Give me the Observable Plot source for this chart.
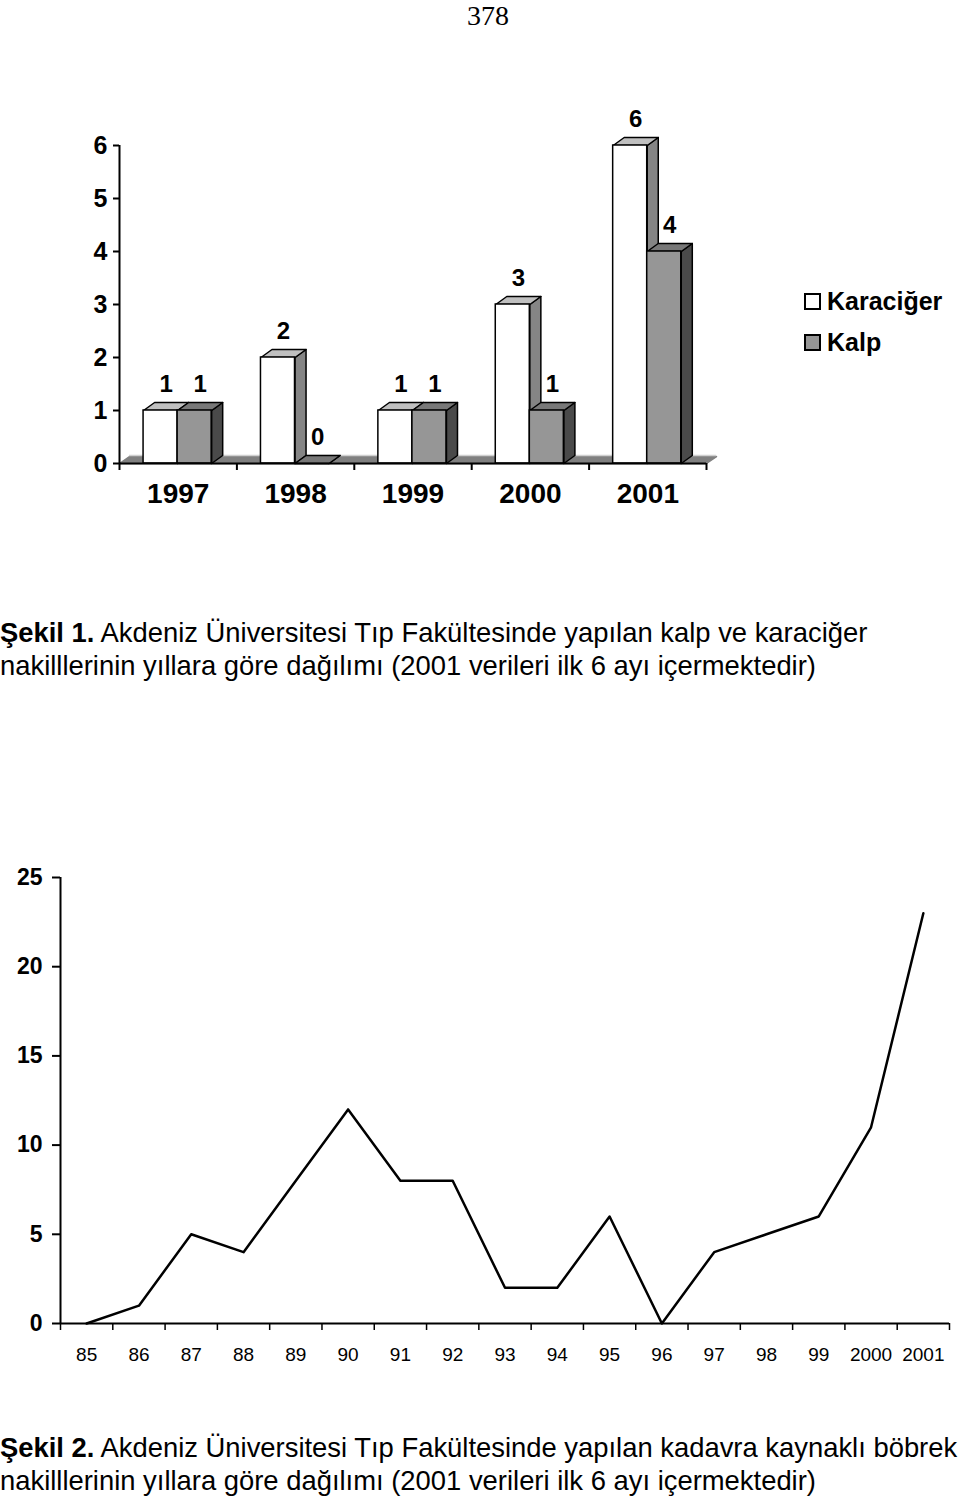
<!DOCTYPE html>
<html><head><meta charset="utf-8">
<script src="https://cdn.jsdelivr.net/npm/d3@7"></script>
<script src="https://cdn.jsdelivr.net/npm/@observablehq/plot@0.6"></script>
<style>
body{margin:0;background:#fff;}
#page{position:relative;width:960px;height:1500px;font-family:"Liberation Sans",Arial,sans-serif;color:#000;overflow:hidden;}
#pnum{position:absolute;left:448px;width:80px;top:0px;text-align:center;font-family:"Liberation Serif","Times New Roman",serif;font-size:28px;line-height:31px;}
#bars{position:absolute;left:0;top:100px;}
#line{position:absolute;left:0;top:860px;}
#legend{position:absolute;left:804px;top:287px;font-weight:bold;font-size:25px;}
.li{display:flex;align-items:center;height:28px;margin-bottom:13px;}
.sw{width:13px;height:13px;border:2px solid #000;margin-right:6px;}
.cap{position:absolute;left:0;width:960px;white-space:nowrap;font-size:27.4px;line-height:33px;}
#cap1{top:616px;}
#cap2{top:1431px;}
svg{overflow:visible;}
</style></head><body>
<div id="page">
 <div id="pnum">378</div>
 <div id="bars"></div>
 <div id="legend"></div>
 <div class="cap" id="cap1"><b>Şekil 1.</b> Akdeniz Üniversitesi Tıp Fakültesinde yapılan kalp ve karaciğer<br>nakilllerinin yıllara göre dağılımı (2001 verileri ilk 6 ayı içermektedir)</div>
 <div id="line"></div>
 <div class="cap" id="cap2"><b>Şekil 2.</b> Akdeniz Üniversitesi Tıp Fakültesinde yapılan kadavra kaynaklı böbrek<br>nakilllerinin yıllara göre dağılımı (2001 verileri ilk 6 ayı içermektedir)</div>
</div>
<script>
// ---- Data: Şekil 1 ----
const years = ["1997", "1998", "1999", "2000", "2001"];
const karaciger = [1, 2, 1, 3, 6];
const kalp = [1, 0, 1, 1, 4];
const seriesNames = ["Karaciğer", "Kalp"];
const barTicks = [0, 1, 2, 3, 4, 5, 6];

// ---- Data: Şekil 2 ----
const lineYears = ["85","86","87","88","89","90","91","92","93","94","95","96","97","98","99","2000","2001"];
const lineValues = [0, 1, 5, 4, 8, 12, 8, 8, 2, 2, 6, 0, 4, 5, 6, 11, 23];
const lineTicks = [0, 5, 10, 15, 20, 25];

const FONT = '"Liberation Sans", Arial, sans-serif';

// ---- 3D bar geometry (in scale units) ----
const BAR_W = 0.29, OFF = [0.205, 0.495], DX = 0.094, DY = 0.151;
const FDX = 0.085, FDY = 0.13;
function barsOf(values, s) {
  return values.map((v, i) => { const x1 = i + OFF[s]; return {i, v, x1, x2: x1 + BAR_W, s}; });
}
function poly(pts, id) { return pts.map(([x, y]) => ({x, y, id})); }
function tops(bs) { return bs.flatMap(b => poly([[b.x1,b.v],[b.x2,b.v],[b.x2+DX,b.v+DY],[b.x1+DX,b.v+DY]], b.i)); }
function sides(bs) { return bs.flatMap(b => poly([[b.x2,0],[b.x2,b.v],[b.x2+DX,b.v+DY],[b.x2+DX,DY]], b.i)); }

const kBars = barsOf(karaciger, 0);
const hBars = barsOf(kalp, 1);
const nY = years.length;
const floor = poly([[0,0],[nY,0],[nY+FDX,FDY],[FDX,FDY]], 0);
const labels = [...kBars, ...hBars].map(b => ({x: (b.x1 + b.x2 + DX) / 2, y: b.v + DY, t: String(b.v)}));

const colors = {kFront: "#ffffff", kTop: "#c0c0c0", kSide: "#858585", hFront: "#969696", hTop: "#787878", hSide: "#4a4a4a"};
const face = (data, fill) => Plot.line(data, {x: "x", y: "y", z: "id", fill, stroke: "#000", strokeWidth: 1.5, curve: "linear-closed"});
const front = (bs, fill) => Plot.rectY(bs, {x1: "x1", x2: "x2", y1: 0, y2: "v", fill, stroke: "#000", strokeWidth: 1.5});

const barPlot = Plot.plot({
  width: 780, height: 420,
  marginLeft: 119, marginRight: 74, marginTop: 45, marginBottom: 57,
  x: {type: "linear", domain: [0, nY]},
  y: {type: "linear", domain: [0, 6]},
  style: {fontFamily: FONT, color: "#000", background: "transparent", overflow: "visible"},
  marks: [
    Plot.line(floor, {x: "x", y: "y", fill: "#808080", stroke: "#808080", curve: "linear-closed"}),
    Plot.ruleY([FDY], {x1: FDX, x2: nY + FDX, stroke: "#d0d0d0", strokeWidth: 1.5, dy: -1}),
    face(sides(kBars), colors.kSide),
    face(tops(kBars), colors.kTop),
    front(kBars, colors.kFront),
    face(sides(hBars), colors.hSide),
    face(tops(hBars), colors.hTop),
    front(hBars, colors.hFront),
    Plot.ruleX([0], {y1: 0, y2: 6, strokeWidth: 2}),
    Plot.ruleY([0], {x1: 0, x2: nY, strokeWidth: 2}),
    Plot.axisY({ticks: barTicks, tickSize: 6, tickPadding: 6, tickFormat: d3.format("d"), fontSize: 25, fontWeight: "bold", strokeWidth: 2, label: null}),
    Plot.axisX({ticks: d3.range(nY + 1), tickSize: 7, tickFormat: () => "", strokeWidth: 2, label: null}),
    Plot.axisX({ticks: years.map((_, i) => i + 0.5), tickSize: 0, tickPadding: 20, tickFormat: d => years[Math.floor(d)], fontSize: 28, fontWeight: "bold", label: null}),
    Plot.text(labels, {x: "x", y: "y", text: "t", dy: -18, fontSize: 24, fontWeight: "bold", fill: "#000"})
  ]
});
document.getElementById("bars").appendChild(barPlot);

// legend
const legend = document.getElementById("legend");
seriesNames.forEach((n, i) => {
  const row = document.createElement("div"); row.className = "li";
  const sw = document.createElement("div"); sw.className = "sw";
  sw.style.background = i === 0 ? colors.kFront : colors.hFront;
  const tx = document.createElement("span"); tx.textContent = n;
  row.appendChild(sw); row.appendChild(tx); legend.appendChild(row);
});

// ---- Line chart ----
const linePts = lineValues.map((v, i) => ({x: i + 0.5, y: v}));
const nL = lineYears.length;
const linePlot = Plot.plot({
  width: 960, height: 520,
  marginLeft: 60, marginRight: 11, marginTop: 17, marginBottom: 57,
  x: {type: "linear", domain: [0, nL]},
  y: {type: "linear", domain: [0, 25]},
  style: {fontFamily: FONT, color: "#000", background: "transparent", overflow: "visible"},
  marks: [
    Plot.ruleX([0], {y1: 0, y2: 25, strokeWidth: 2}),
    Plot.ruleY([0], {x1: 0, x2: nL, strokeWidth: 2}),
    Plot.axisY({ticks: lineTicks, tickSize: 8, tickPadding: 10, fontSize: 23, fontWeight: "bold", strokeWidth: 2, label: null}),
    Plot.axisX({ticks: d3.range(nL + 1), tickSize: 7, tickFormat: () => "", strokeWidth: 1.5, label: null}),
    Plot.axisX({ticks: lineYears.map((_, i) => i + 0.5), tickSize: 0, tickPadding: 24, tickFormat: d => lineYears[Math.floor(d)], fontSize: 19, label: null}),
    Plot.line(linePts, {x: "x", y: "y", stroke: "#000", strokeWidth: 2.5})
  ]
});
document.getElementById("line").appendChild(linePlot);
</script>
</body></html>
